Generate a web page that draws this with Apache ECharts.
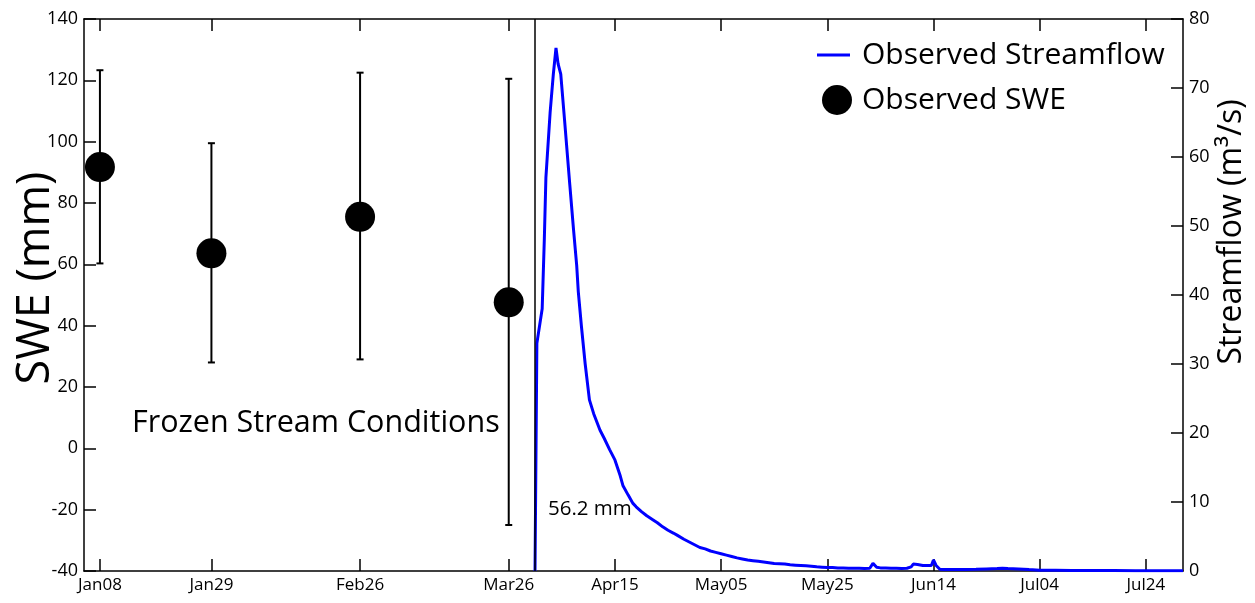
<!DOCTYPE html>
<html>
<head>
<meta charset="utf-8">
<script src="https://cdn.jsdelivr.net/npm/echarts@6/dist/echarts.min.js"></script>
<style>
html,body{margin:0;padding:0;background:#fff;}
#c{width:1255px;height:603px;}
</style>
</head>
<body>
<div id="c"></div>
<script>
// ---- data (x = day of year, 2015) ----
const tickDays   = [8, 29, 57, 85, 105, 125, 145, 165, 185, 205];
const tickLabels = ['Jan08','Jan29','Feb26','Mar26','Apr15','May05','May25','Jun14','Jul04','Jul24'];
const sweDays = [8, 29, 57, 85];
const sweVals = [91.7, 63.6, 75.5, 47.6];
const sweLow  = [60.3, 28, 29, -25];
const sweHigh = [123.3, 99.5, 122.5, 120.5];
const sfDays = [89.95,90.3,91.3,91.7,92,92.8,93.4,93.9,94.3,94.8,95.5,96.5,97.2,97.8,98.1,98.7,99.4,100.2,101,102.2,103,104,105,106,106.5,107.5,108.4,109,110,111,112.2,113,114,115,116,116.7,118,119,120,121,122,123,124,125,126,127,128,129,130,131,132,133,134,135,136,137,138,139,140,141,142,143,144,145,146,147,148,149,150,151,152,153,153.6,154.3,155,156,157,158,159,160,160.8,161.2,162,163,164,164.6,165,165.5,166.2,167,169,171,173,175,177,178,179,181,183,185,188,191,195,199,203,207,212];
const sfFlow = [0,33,38,48,57,66.5,72,75.8,73.5,72,65.5,56,49.5,44.3,40.5,35.4,30,24.8,22.8,20.4,19.2,17.6,16.1,13.8,12.4,11,9.8,9.3,8.6,8,7.4,7,6.4,5.9,5.5,5.2,4.6,4.2,3.8,3.4,3.2,2.9,2.7,2.5,2.3,2.1,1.9,1.75,1.6,1.5,1.4,1.3,1.2,1.1,1.05,1,0.9,0.85,0.8,0.75,0.7,0.6,0.55,0.5,0.5,0.45,0.45,0.4,0.4,0.4,0.35,0.4,1.1,0.55,0.45,0.45,0.4,0.4,0.35,0.4,0.6,1.0,0.95,0.8,0.8,0.8,1.6,0.8,0.25,0.2,0.2,0.22,0.25,0.3,0.35,0.4,0.35,0.3,0.2,0.12,0.1,0.08,0.07,0.06,0.05,0.05,0.05];
const streamStartDay = 89.95;
const annotFrozen = 'Frozen Stream Conditions';
const annotVolume = '56.2 mm';

const FONT = 'Open Sans';
const chart = echarts.init(document.getElementById('c'), null, {renderer:'canvas'});

const axisLineStyle = {color:'#000', width:1.5};
const xLabelFmt = v => { const i = tickDays.indexOf(v); return i >= 0 ? tickLabels[i] : ''; };

chart.setOption({
  animation:false,
  backgroundColor:'#fff',
  grid:{left:84, right:72, top:19, bottom:32, outerBoundsMode:'none', containLabel:false},
  legend:[
    {data:[{name:'Observed Streamflow', icon:'rect', itemStyle:{color:'#0000ff'}}], left:812, top:35, orient:'vertical',
     itemWidth:33, itemHeight:3, textStyle:{fontFamily:FONT, fontSize:30, color:'#000', padding:[0,0,0,7]}},
    {data:[{name:'Observed SWE', icon:'circle'}], left:817, top:80, orient:'vertical',
     itemWidth:30, itemHeight:30, textStyle:{fontFamily:FONT, fontSize:30, color:'#000', padding:[0,0,0,5]}}
  ],
  xAxis:[
    {type:'value', min:5, max:212, position:'bottom',
     axisLine:{show:true, onZero:false, lineStyle:axisLineStyle},
     axisTick:{show:true, inside:true, length:12, customValues:tickDays, lineStyle:{color:'#000', width:1.5}},
     axisLabel:{show:true, customValues:tickDays, formatter:xLabelFmt, fontFamily:FONT, fontSize:17, color:'#000', margin:6},
     splitLine:{show:false}},
    {type:'value', min:5, max:212, position:'top',
     axisLine:{show:true, onZero:false, lineStyle:axisLineStyle},
     axisTick:{show:true, inside:true, length:12, customValues:tickDays, lineStyle:{color:'#000', width:1.5}},
     axisLabel:{show:false}, splitLine:{show:false}}
  ],
  yAxis:[
    {type:'value', min:-40, max:140, interval:20, position:'left',
     axisLine:{show:true, onZero:false, lineStyle:axisLineStyle},
     axisTick:{show:true, inside:true, length:12, lineStyle:{color:'#000', width:1.5}},
     axisLabel:{fontFamily:FONT, fontSize:18, color:'#000', margin:6},
     splitLine:{show:false}},
    {type:'value', min:0, max:80, interval:10, position:'right',
     axisLine:{show:true, onZero:false, lineStyle:axisLineStyle},
     axisTick:{show:true, inside:true, length:12, lineStyle:{color:'#000', width:1.5}},
     axisLabel:{fontFamily:FONT, fontSize:18, color:'#000', margin:6},
     splitLine:{show:false}}
  ],
  graphic:[
    {type:'text', x:132, y:423, style:{text:annotFrozen, fontFamily:FONT, fontSize:30.5, fill:'#000', align:'left', verticalAlign:'middle'}},
    {type:'text', x:548, y:509, style:{text:annotVolume, fontFamily:FONT, fontSize:20.5, fill:'#000', align:'left', verticalAlign:'middle'}},
    {type:'text', x:36, y:278, rotation:Math.PI/2, style:{text:'SWE (mm)', fontFamily:FONT, fontSize:45, fill:'#000', align:'center', verticalAlign:'middle'}},
    {type:'text', x:1232, y:232, rotation:Math.PI/2, style:{text:'Streamflow (m³/s)', fontFamily:FONT, fontSize:32, fill:'#000', align:'center', verticalAlign:'middle'}}
  ],
  series:[
    {name:'SWE range', type:'custom', xAxisIndex:0, yAxisIndex:0, z:2,
     data: sweDays.map((d,i)=>[d, sweLow[i], sweHigh[i]]),
     renderItem:function(params, api){
       const lo = api.coord([api.value(0), api.value(1)]);
       const hi = api.coord([api.value(0), api.value(2)]);
       const cw = 3.5;
       const st = {stroke:'#000', lineWidth:2};
       return {type:'group', children:[
         {type:'line', shape:{x1:lo[0], y1:lo[1], x2:hi[0], y2:hi[1]}, style:st},
         {type:'line', shape:{x1:lo[0]-cw, y1:lo[1], x2:lo[0]+cw, y2:lo[1]}, style:st},
         {type:'line', shape:{x1:hi[0]-cw, y1:hi[1], x2:hi[0]+cw, y2:hi[1]}, style:st}
       ]};
     }},
    {name:'Observed SWE', type:'scatter', xAxisIndex:0, yAxisIndex:0, z:3,
     symbol:'circle', symbolSize:30, itemStyle:{color:'#000', opacity:1},
     data: sweDays.map((d,i)=>[d, sweVals[i]])},
    {name:'Observed Streamflow', type:'line', xAxisIndex:0, yAxisIndex:1, z:4,
     showSymbol:false, symbol:'none', lineStyle:{color:'#0000ff', width:3}, itemStyle:{color:'#0000ff'},
     data: sfDays.map((d,i)=>[d, sfFlow[i]]),
     markLine:{silent:true, symbol:['none','none'], label:{show:false},
       lineStyle:{color:'#000', width:1.5, type:'solid'},
       data:[{xAxis:streamStartDay}]}}
  ]
});
</script>
</body>
</html>
